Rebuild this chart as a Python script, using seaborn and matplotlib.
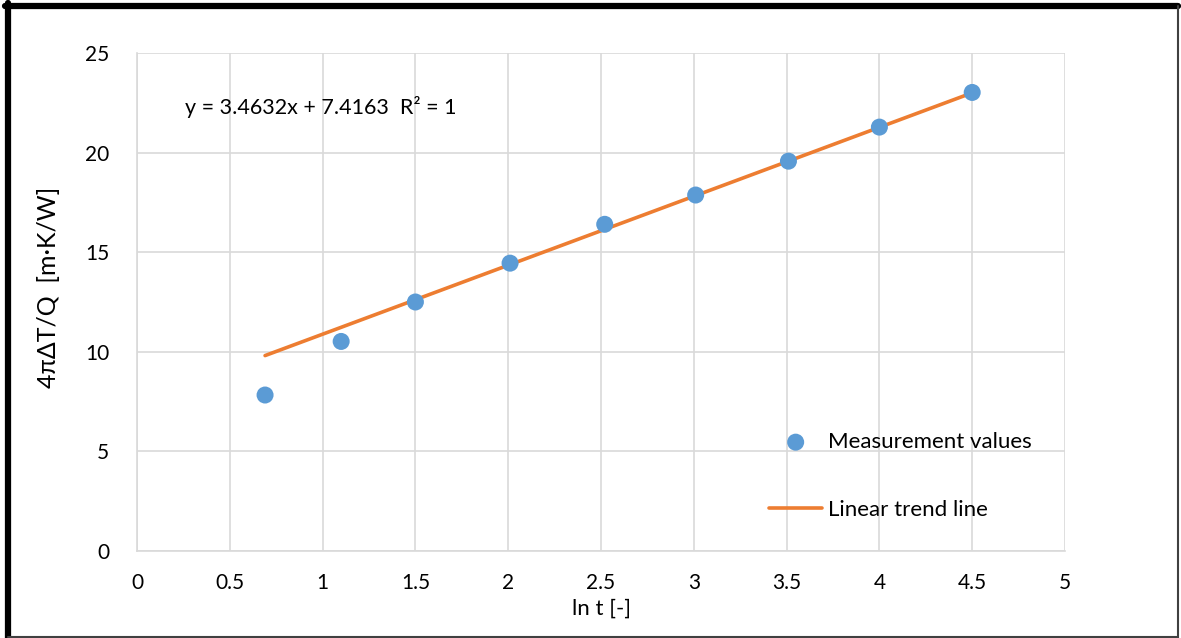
import matplotlib.pyplot as plt
import pandas as pd
import seaborn as sns
from matplotlib.lines import Line2D

# measured points (ln t, 4*pi*dT/Q)
ln_t = [0.69, 1.10, 1.50, 2.01, 2.52, 3.01, 3.51, 4.00, 4.50]
temp_ratio = [7.83, 10.52, 12.50, 14.45, 16.40, 17.87, 19.57, 21.28, 23.02]

# trend line end points as drawn in the chart
trend_x = [0.69, 4.50]
trend_y = [9.81, 23.00]

x_ticks = [0, 0.5, 1, 1.5, 2, 2.5, 3, 3.5, 4, 4.5, 5]
x_tick_labels = ["0", "0.5", "1", "1.5", "2", "2.5", "3", "3.5", "4", "4.5", "5"]
y_ticks = [0, 5, 10, 15, 20, 25]

POINT_COLOR = "#5B9BD5"
LINE_COLOR = "#ED7D31"
GRID_COLOR = "#D9D9D9"

sns.set_theme(style="white")
plt.rcParams["font.family"] = ["Lato", "DejaVu Sans"]
plt.rcParams["text.color"] = "black"
plt.rcParams["axes.labelcolor"] = "black"

W, H = 1181, 638
fig = plt.figure(figsize=(W / 100, H / 100), dpi=100)
ax = fig.add_axes([137 / W, 1 - 551 / H, (1065 - 137) / W, (551 - 53) / H])

points = pd.DataFrame({"x": ln_t, "y": temp_ratio})
trend = pd.DataFrame({"x": trend_x, "y": trend_y})

sns.lineplot(data=trend, x="x", y="y", color=LINE_COLOR, linewidth=2.6,
             ax=ax, label="Linear trend line", zorder=2)
sns.scatterplot(data=points, x="x", y="y", color=POINT_COLOR, s=150,
                edgecolor="none", ax=ax, label="Measurement values", zorder=3)

ax.set_xlim(0, 5)
ax.set_ylim(0, 25)
ax.set_xticks(x_ticks)
ax.set_xticklabels(x_tick_labels)
ax.set_yticks(y_ticks)
ax.tick_params(axis="both", labelsize=15, length=0, colors="black")
ax.tick_params(axis="x", pad=16)
ax.tick_params(axis="y", pad=20)
ax.grid(True, color=GRID_COLOR, linewidth=1.2)
ax.set_axisbelow(True)
for side in ax.spines.values():
    side.set_visible(False)
for name in ("left", "bottom"):
    ax.spines[name].set_visible(True)
    ax.spines[name].set_color(GRID_COLOR)
    ax.spines[name].set_linewidth(1.2)

ax.set_xlabel("ln t [-]", fontsize=16, labelpad=4)
ax.set_ylabel("4πΔT/Q  [m·K/W]", fontsize=18)
ax.yaxis.set_label_coords(-0.083, 0.53)

ax.text(0.26, 22.3, "y = 3.4632x + 7.4163  R² = 1", fontsize=15.5,
        va="center", ha="left")

handles, labels = ax.get_legend_handles_labels()
order = [labels.index("Measurement values"), labels.index("Linear trend line")]
ax.legend([handles[i] for i in order], [labels[i] for i in order],
          loc="upper left", bbox_to_anchor=(749 / W, 1 - 412 / H),
          bbox_transform=fig.transFigure, frameon=False, fontsize=16,
          labelspacing=2.15, handlelength=2.4, handletextpad=0.25,
          markerscale=1.0)

# figure border: thick black top/left, thin grey right/bottom
fig.add_artist(Line2D([8 / W, 8 / W], [0, 1 - 3 / H], color="black",
                      linewidth=4.5, transform=fig.transFigure))
fig.add_artist(Line2D([5 / W, 1178 / W], [1 - 6 / H, 1 - 6 / H], color="black",
                      linewidth=4.5, transform=fig.transFigure))
fig.add_artist(Line2D([1178 / W, 1178 / W], [0, 1 - 6 / H], color="#404040",
                      linewidth=1.5, transform=fig.transFigure))
fig.add_artist(Line2D([8 / W, 1178 / W], [1.5 / H, 1.5 / H], color="#404040",
                      linewidth=1.5, transform=fig.transFigure))

fig.savefig("out.png", dpi=100)
